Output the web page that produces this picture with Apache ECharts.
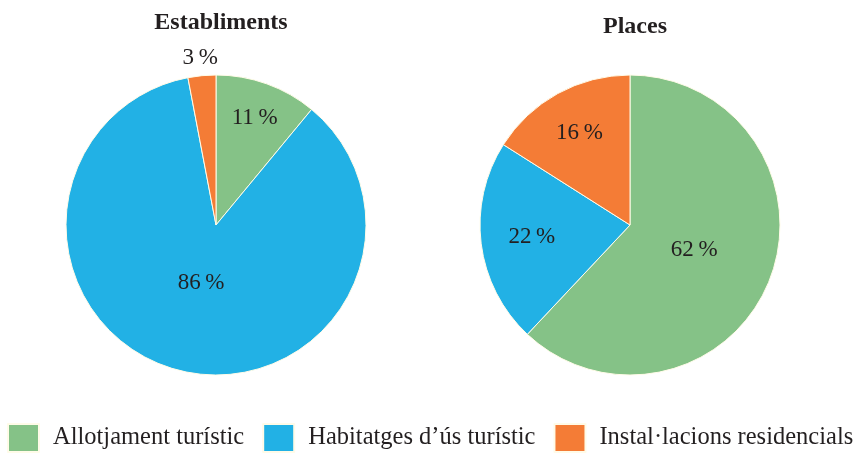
<!DOCTYPE html>
<html lang="ca">
<head>
    <meta charset="UTF-8">
    <title>Establiments i places</title>
    <script src="https://cdn.jsdelivr.net/npm/echarts@6.0.0/dist/echarts.min.js"></script>
    <style>
        html, body { margin: 0; padding: 0; background: #fff; }
        #chart { width: 856px; height: 454px; }
    </style>
</head>
<body>
    <div id="chart"></div>
    <script>
        // dades
        const categories = ['Allotjament turístic', 'Habitatges d\u2019ús turístic', 'Instal\u00b7lacions residencials'];
        const establiments = [11, 86, 3];
        const places = [62, 22, 16];
        const colors = ['#85c287', '#22b1e5', '#f47c36'];

        // on va cada etiqueta, com a fracció del radi
        const labelRadius = [[0.74, 0.38, 1.10], [0.44, 0.64, 0.68]];
        const R = 150;
        const font = '"Liberation Serif", "DejaVu Serif", serif';
        const ink = '#231f20';

        const chart = echarts.init(document.getElementById('chart'));

        function pieData(values) {
            return values.map((v, i) => ({ name: categories[i], value: v }));
        }

        // desplaça l'etiqueta des del punt mig del radi
        function moveLabel(params) {
            const values = params.seriesIndex === 0 ? establiments : places;
            const total = values.reduce((a, b) => a + b, 0);
            let before = 0;
            for (let i = 0; i < params.dataIndex; i++) before += values[i];
            const mid = (before + values[params.dataIndex] / 2) / total * Math.PI * 2;
            const k = (labelRadius[params.seriesIndex][params.dataIndex] - 0.5) * R;
            return { dx: k * Math.sin(mid), dy: -k * Math.cos(mid) };
        }

        const pieBase = {
            type: 'pie',
            radius: R,
            startAngle: 90,
            clockwise: true,
            animation: false,
            silent: true,
            itemStyle: { borderColor: '#fffbe8', borderWidth: 1 },
            label: {
                show: true,
                position: 'inside',
                formatter: p => p.value + '\u2009%',
                color: ink,
                fontFamily: font,
                fontSize: 23
            },
            labelLine: { show: false },
            labelLayout: moveLabel
        };

        const option = {
            color: colors,
            title: [
                {
                    text: 'Establiments',
                    left: 216, top: 6,
                    textAlign: 'center',
                    textStyle: { fontFamily: font, fontWeight: 'bold', fontSize: 24, color: ink }
                },
                {
                    text: 'Places',
                    left: 630, top: 10,
                    textAlign: 'center',
                    textStyle: { fontFamily: font, fontWeight: 'bold', fontSize: 24, color: ink }
                }
            ],
            legend: {
                data: categories,
                left: 7, bottom: 1,
                padding: 0,
                itemWidth: 31, itemHeight: 28,
                itemGap: 18,
                icon: 'rect',
                selectedMode: false,
                textStyle: { fontFamily: font, fontSize: 24.5, color: ink, padding: [2, 0, 0, 9] }
            },
            series: [
                Object.assign({}, pieBase, { center: [216, 225], data: pieData(establiments) }),
                Object.assign({}, pieBase, { center: [630, 225], data: pieData(places) })
            ]
        };

        chart.setOption(option);
    </script>
</body>
</html>
